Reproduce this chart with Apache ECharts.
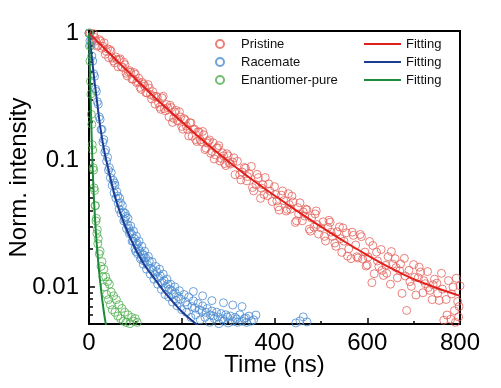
<!DOCTYPE html>
<html>
<head>
<meta charset="utf-8">
<script src="https://cdn.jsdelivr.net/npm/echarts@6/dist/echarts.min.js"></script>
<style>html,body{margin:0;padding:0;background:#fff;}#c{width:501px;height:388px;}</style>
</head>
<body>
<div id="c"></div>
<script>
// ---- data (time in ns, normalized intensity) ----
const pristinePoints = [
[0,1.0],[5,0.891],[10,0.99],[15,0.867],[20,0.802],[25,0.867],[30,0.787],[35,0.682],[40,0.752],[45,0.741],
[50,0.637],[55,0.583],[60,0.619],[65,0.617],[70,0.545],[75,0.589],[80,0.483],[85,0.494],[90,0.492],[95,0.435],
[100,0.474],[105,0.415],[110,0.374],[115,0.409],[120,0.382],[125,0.338],[130,0.369],[135,0.303],[140,0.319],[145,0.318],
[150,0.282],[155,0.251],[160,0.318],[165,0.244],[170,0.259],[175,0.270],[180,0.198],[185,0.239],[190,0.205],[195,0.240],
[200,0.184],[205,0.212],[210,0.185],[215,0.155],[220,0.196],[225,0.174],[230,0.145],[235,0.167],[240,0.144],[245,0.168],
[250,0.121],[255,0.136],[260,0.144],[265,0.117],[270,0.102],[275,0.124],[280,0.130],[285,0.103],[290,0.108],[295,0.0904],
[300,0.108],[305,0.0931],[310,0.0962],[315,0.0767],[320,0.0977],[325,0.0767],[330,0.0805],[335,0.0873],[340,0.0685],[345,0.0780],
[350,0.0891],[355,0.0571],[360,0.0637],[365,0.0726],[370,0.0499],[375,0.0638],[380,0.0728],[385,0.0524],[390,0.0570],[395,0.0471],
[400,0.0617],[405,0.0476],[410,0.0403],[415,0.0528],[420,0.0479],[425,0.0396],[430,0.0543],[435,0.0410],[440,0.0468],[445,0.0322],
[450,0.0422],[455,0.0460],[460,0.0332],[465,0.0362],[470,0.0405],[475,0.0285],[480,0.0349],[485,0.0296],[490,0.0397],[495,0.0261],
[500,0.0292],[505,0.0326],[510,0.0230],[515,0.0295],[520,0.0323],[525,0.0250],[530,0.0222],[535,0.0272],[540,0.0297],[545,0.0187],
[550,0.0229],[555,0.0267],[560,0.0199],[565,0.0167],[570,0.0255],[575,0.0214],[580,0.0169],[585,0.0259],[590,0.0166],[595,0.0188],
[600,0.0149],[605,0.0228],[610,0.0108],[615,0.0127],[620,0.0188],[625,0.0145],[630,0.0197],[635,0.0123],[640,0.0148],[645,0.0173],
[650,0.0105],[655,0.0151],[660,0.0167],[665,0.0118],[670,0.0134],[675,0.00889],[680,0.0168],[685,0.00652],[690,0.0135],[695,0.0101],
[700,0.0150],[705,0.00863],[710,0.0118],[715,0.0131],[720,0.00899],[725,0.0106],[730,0.0132],[735,0.00938],[740,0.00794],[745,0.0115],
[750,0.0107],[755,0.00782],[760,0.0128],[765,0.00547],[770,0.00796],[775,0.0112],[780,0.00557],[785,0.0100],[790,0.00526],[795,0.00766],
[800,0.0102],
[2.5,1.0],[7.5,0.877],[12.5,0.923],[17.5,0.789],[22.5,0.889],[27.5,0.760],[32.5,0.838],[37.5,0.716],[42.5,0.641],[47.5,0.723],
[52.5,0.604],[57.5,0.650],[62.5,0.543],[67.5,0.627],[72.5,0.536],[77.5,0.564],[82.5,0.460],[87.5,0.507],[92.5,0.434],[97.5,0.489],
[102.5,0.408],[107.5,0.441],[112.5,0.360],[117.5,0.397],[122.5,0.340],[127.5,0.393],[132.5,0.328],[137.5,0.346],[142.5,0.276],[147.5,0.312],
[152.5,0.261],[157.5,0.309],[162.5,0.254],[167.5,0.274],[172.5,0.219],[177.5,0.259],[182.5,0.213],[187.5,0.246],[192.5,0.202],[197.5,0.218],
[202.5,0.175],[207.5,0.207],[212.5,0.174],[217.5,0.197],[222.5,0.154],[227.5,0.175],[232.5,0.140],[237.5,0.166],[242.5,0.139],[247.5,0.158],
[252.5,0.124],[257.5,0.140],[262.5,0.113],[267.5,0.137],[272.5,0.110],[277.5,0.125],[282.5,0.0982],[287.5,0.114],[292.5,0.0938],[297.5,0.112],
[302,0.0950],[312.5,0.104],[327.5,0.0697],[337.5,0.0861],[342,0.0740],[352.5,0.0607],[362.5,0.0771],[372,0.0600],[377.5,0.0535],[387.5,0.0649],
[402,0.0535],[407.5,0.0428],[417.5,0.0570],[427.5,0.0408],[432,0.0445],[437.5,0.0520],[447.5,0.0332],[452,0.0375],[462,0.0390],[467.5,0.0410],
[477.5,0.0275],[487.5,0.0376],[492,0.0310],[507.5,0.0250],[517.5,0.0335],[522,0.0270],[532.5,0.0209],[542,0.0240],[547.5,0.0292],[557.5,0.0175],
[567.5,0.0270],[577.5,0.0173],[587.5,0.0249],[597.5,0.0146],
[602,0.0172],[612,0.0212],[622,0.0160],[632,0.0135],[642,0.0128],[652,0.0190],[662,0.0142],[672,0.0152],[682,0.0122],[692,0.0110],
[702,0.0119],[712,0.0143],[722,0.0112],[732,0.0099],[742,0.0104],[752,0.0089],[762,0.0096],[772,0.0060],[782,0.0088],[788,0.0065],
[792,0.0117],[797,0.0058],[798,0.0070]
];
const racematePoints = [
[0,1.0],[2,0.871],[4,0.794],[6,0.661],[8,0.603],[10,0.479],[12,0.457],[14,0.363],[16,0.347],[18,0.288],
[20,0.275],[22,0.219],[24,0.209],[26,0.174],[28,0.174],[30,0.138],[32,0.145],[34,0.115],[36,0.120],[38,0.0977],
[40,0.105],[42,0.0832],[44,0.0871],[46,0.0724],[48,0.0794],[50,0.0631],[52,0.0692],[54,0.0550],[56,0.0631],[58,0.0501],
[60,0.0562],[63,0.0457],[66,0.0501],[69,0.0380],[72,0.0437],[75,0.0331],[78,0.0380],[81,0.0288],[84,0.0347],[87,0.0263],
[90,0.0302],[93,0.0229],[96,0.0275],[99,0.0200],[102,0.0251],[105,0.0182],[108,0.0229],[111,0.0166],[114,0.0209],[117,0.0151],
[120,0.0191],[124,0.0138],[128,0.0174],[132,0.0126],[136,0.0158],[140,0.0115],[144,0.0145],[148,0.0105],[152,0.0138],[156,0.00955],
[160,0.0126],[164,0.00871],[168,0.0115],[172,0.00832],[176,0.0105],[180,0.00759],[185,0.0100],[190,0.00708],[195,0.00933],[200,0.00661],
[205,0.00871],[210,0.00631],[215,0.00832],[220,0.00575],[225,0.00776],[230,0.00603],[235,0.00741],[240,0.00550],[245,0.00708],[250,0.00575],
[255,0.00676],[260,0.00525],[265,0.00646],[270,0.00562],[275,0.00631],[280,0.00513],[285,0.00617],[290,0.00537],[295,0.00603],[300,0.00520],
[305,0.00589],[310,0.00537],[315,0.00575],[320,0.00525],[325,0.00603],[330,0.00537],[335,0.00562],[340,0.00525],[345,0.00589],[350,0.00537],
[360,0.00600],[446,0.00520],[455,0.00540],[462,0.00580],[470,0.00530],
[102,0.0215],[118,0.0178],[130,0.0160],[134,0.0140],[146,0.0132],[150,0.0118],[162,0.0112],[166,0.0100],[178,0.0094],[182,0.0088],
[193,0.0084],[198,0.0080],[208,0.0076],[212,0.0072],[222,0.0070],[225,0.0092],[228,0.0068],[238,0.0066],[244,0.0064],[245,0.0085],
[252,0.0063],[262,0.0060],[265,0.0078],[268,0.0059],[278,0.0058],[288,0.0056],[290,0.0075],[298,0.0058],[310,0.0072],[318,0.0056],
[330,0.0070],[338,0.0057],[355,0.0055],
[55,0.066],[62,0.052],[65,0.041],[68,0.046],[74,0.039],[77,0.034],[80,0.036],[83,0.031],[86,0.029],[89,0.027],
[92,0.026],[95,0.023],[98,0.024],[101,0.019],[104,0.022],[107,0.020],[110,0.019],[113,0.017],[116,0.018],[119,0.016],
[122,0.017],[126,0.015],[138,0.0135],[142,0.0125],[154,0.0122],[158,0.0108],[170,0.0105],[174,0.0096],[186,0.0090],[188,0.0078]
];
const enantiomerPoints = [
[0,1.0],[1,0.794],[2,0.603],[3,0.417],[4,0.331],[5,0.229],[6,0.191],[7,0.132],[8,0.120],[9,0.0871],
[10,0.0832],[11,0.0603],[12,0.0575],[13,0.0437],[14,0.0437],[15,0.0331],[16,0.0347],[17,0.0263],[18,0.0282],[19,0.0219],
[20,0.0240],[22,0.0182],[24,0.0191],[26,0.0145],[28,0.0158],[30,0.0120],[32,0.0138],[34,0.0100],[36,0.0120],[38,0.00871],
[40,0.0110],[42,0.00794],[44,0.0105],[46,0.00724],[48,0.00912],[50,0.00661],[53,0.00851],[56,0.00631],[59,0.00794],[62,0.00589],
[65,0.00724],[68,0.00562],[71,0.00676],[74,0.00537],[77,0.00631],[80,0.00525],[84,0.00603],[88,0.00513],[92,0.00575],[96,0.00537],
[100,0.00562],[104,0.00525]
];
const pristineFit = [[0,1],[50,0.661],[100,0.437],[150,0.292],[200,0.200],[250,0.138],[300,0.0977],[350,0.0708],[400,0.0525],
[450,0.0394],[500,0.0299],[550,0.0229],[600,0.0178],[650,0.0141],[700,0.0115],[750,0.0098],[800,0.0085]];
const racemateFit = [[0,1],[2.5,0.83],[5,0.70],[7.5,0.58],[10,0.48],[12.5,0.40],[15,0.34],[20,0.24],[25,0.175],[30,0.135],
[35,0.108],[40,0.09],[50,0.063],[60,0.046],[70,0.036],[80,0.029],[100,0.020],[120,0.0148],[140,0.0118],[160,0.0094],
[180,0.0077],[200,0.0064],[220,0.0055],[240,0.0048]];
const enantiomerFit = [[0,1],[1,0.71],[2,0.5],[3,0.36],[4,0.26],[5,0.19],[6,0.14],[8,0.085],[10,0.055],[12,0.04],
[14,0.03],[18,0.019],[22,0.013],[26,0.0095],[30,0.0072],[34,0.0057],[38,0.0047]];
const xTicks = [0, 200, 400, 600, 800];
const yMajorTicks = [0.01, 0.1, 1];
const yMinorTicks = [0.006,0.007,0.008,0.009,0.02,0.03,0.04,0.05,0.06,0.07,0.08,0.09,0.2,0.3,0.4,0.5,0.6,0.7,0.8,0.9];
const scatterNames = ['Pristine', 'Racemate', 'Enantiomer-pure'];
const fitNames = ['Fit-P', 'Fit-R', 'Fit-E'];

const FONT = '"Liberation Sans", Arial, sans-serif';
const scatterColors = ['#e5605a', '#4a8bd0', '#4caf4c'];
const lineColors = ['#e0201c', '#1d3d94', '#1d8b3b'];
const pointSets = [pristinePoints, racematePoints, enantiomerPoints];
const fitSets = [pristineFit, racemateFit, enantiomerFit];

const series = [];
pointSets.forEach((d, i) => {
  series.push({
    name: scatterNames[i], type: 'scatter', data: d, symbol: 'circle', symbolSize: 8,
    itemStyle: { color: 'rgba(255,255,255,0)', borderColor: scatterColors[i], borderWidth: 1 },
    z: 2
  });
});
fitSets.forEach((d, i) => {
  series.push({
    name: fitNames[i], type: 'line', data: d, symbol: 'none', smooth: 0.3,
    lineStyle: { color: lineColors[i], width: 2 }, itemStyle: { color: lineColors[i] },
    z: 5
  });
});

const chart = echarts.init(document.getElementById('c'));
chart.setOption({
  animation: false,
  textStyle: { fontFamily: FONT },
  grid: { left: 89, right: 41, top: 31, bottom: 64, show: true, borderColor: '#000', borderWidth: 2,
          backgroundColor: 'transparent', outerBoundsMode: 'none', containLabel: false },
  legend: [
    { data: scatterNames, orient: 'vertical', left: 210, top: 32, itemWidth: 8, itemHeight: 8, itemGap: 4,
      textStyle: { fontSize: 13, color: '#111', fontFamily: FONT, padding: [0, 0, 0, 12], lineHeight: 14 } },
    { data: fitNames, orient: 'vertical', left: 359, top: 32, itemWidth: 37, itemHeight: 2, itemGap: 4, icon: 'rect',
      formatter: () => 'Fitting',
      textStyle: { fontSize: 13, color: '#111', fontFamily: FONT, lineHeight: 14 } }
  ],
  xAxis: {
    type: 'value', min: 0, max: 800, interval: 200,
    name: 'Time (ns)', nameLocation: 'middle', nameGap: 29, nameMoveOverlap: false,
    nameTextStyle: { fontSize: 24, color: '#000', fontFamily: FONT },
    axisLine: { lineStyle: { color: '#000', width: 2 } },
    axisTick: { inside: true, length: 6, lineStyle: { color: '#000', width: 1.5 } },
    minorTick: { show: true, splitNumber: 2, length: 3, lineStyle: { color: '#000', width: 1.5 } },
    axisLabel: { fontSize: 24, color: '#000', margin: 7, fontFamily: FONT },
    splitLine: { show: false }
  },
  yAxis: [
    {
      type: 'log', logBase: 10, min: 0.0051, max: 1.04,
      name: 'Norm. intensity', nameLocation: 'middle', nameGap: 58, nameMoveOverlap: false,
      nameTextStyle: { fontSize: 24, color: '#000', fontFamily: FONT },
      axisLine: { lineStyle: { color: '#000', width: 2 } },
      axisTick: { inside: true, length: 6, customValues: yMajorTicks, lineStyle: { color: '#000', width: 1.5 } },
      axisLabel: { fontSize: 24, color: '#000', margin: 10, customValues: yMajorTicks, fontFamily: FONT,
                   formatter: v => String(+v.toPrecision(3)) },
      splitLine: { show: false }
    },
    {
      type: 'log', logBase: 10, min: 0.0051, max: 1.04, position: 'left', offset: 0,
      axisLine: { show: false },
      axisTick: { inside: true, length: 4, customValues: yMinorTicks, lineStyle: { color: '#000', width: 1.5 } },
      axisLabel: { show: false },
      splitLine: { show: false }
    }
  ],
  series: series
});
</script>
</body>
</html>
